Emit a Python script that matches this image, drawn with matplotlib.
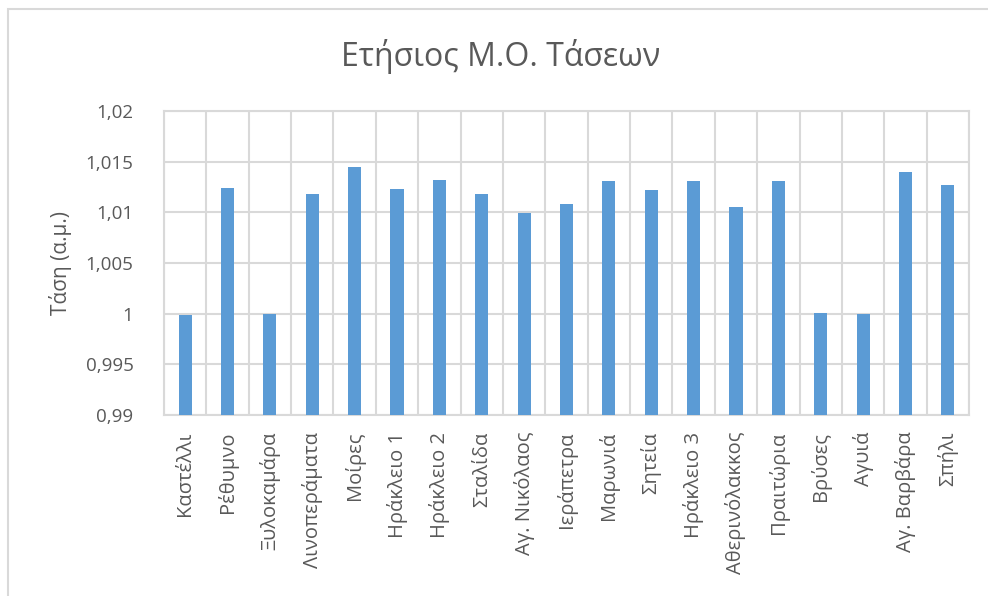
import numpy as np
import matplotlib
matplotlib.use("Agg")
import matplotlib.pyplot as plt
from matplotlib.patches import Rectangle
from matplotlib.ticker import FuncFormatter, MultipleLocator

# Data
stations = ["Καστέλλι", "Ρέθυμνο", "Ξυλοκαμάρα", "Λινοπεράματα", "Μοίρες",
            "Ηράκλειο 1", "Ηράκλειο 2", "Σταλίδα", "Αγ. Νικόλαος", "Ιεράπετρα",
            "Μαρωνιά", "Σητεία", "Ηράκλειο 3", "Αθερινόλακκος", "Πραιτώρια",
            "Βρύσες", "Αγυιά", "Αγ. Βαρβάρα", "Σπήλι"]
voltage = [0.9999, 1.0124, 1.0000, 1.0118, 1.0145,
           1.0123, 1.0132, 1.0118, 1.0099, 1.0108,
           1.0131, 1.0122, 1.0131, 1.0105, 1.0131,
           1.0001, 1.0000, 1.0140, 1.0127]
y_min, y_max, y_step = 0.99, 1.02, 0.005

TEXT = "#595959"
GRID = "#d9d9d9"
BAR = "#5b9bd5"

plt.rcParams['font.family'] = ['Open Sans', 'DejaVu Sans']

fig = plt.figure(figsize=(9.88, 5.96), dpi=100)
fig.patch.set_facecolor('white')

# outer chart border
fig.patches.append(Rectangle((8 / 988, -0.05), 1.2, 1 - 9 / 596 + 0.05,
                             transform=fig.transFigure, fill=False,
                             edgecolor=GRID, linewidth=1.5))

ax = fig.add_axes([164 / 988, 1 - 415 / 596, (969 - 164) / 988, (415 - 111) / 596])

x = np.arange(len(stations))
ax.bar(x, voltage, width=0.31, color=BAR, zorder=3)

ax.set_xlim(-0.5, len(stations) - 0.5)
ax.set_ylim(y_min, y_max)
ax.yaxis.set_major_locator(MultipleLocator(y_step))
ax.yaxis.set_major_formatter(FuncFormatter(
    lambda v, p: ('%g' % round(v, 3)).replace('.', ',')))

ax.set_xticks(x)
ax.set_xticklabels(stations, rotation=90, fontsize=14.5, color=TEXT)
ax.set_xticks(np.arange(len(stations) + 1) - 0.5, minor=True)
ax.tick_params(axis='x', which='both', length=0, pad=12)
ax.tick_params(axis='y', length=0, labelsize=13.5, labelcolor=TEXT, pad=22)

ax.grid(axis='y', which='major', color=GRID, linewidth=1.5, zorder=0)
ax.grid(axis='x', which='minor', color=GRID, linewidth=1.5, zorder=0)
for spine in ax.spines.values():
    spine.set_color(GRID)
    spine.set_linewidth(1.5)

ax.set_ylabel("Τάση (α.μ.)", fontsize=15, color=TEXT, labelpad=10)
fig.text(0.507, 1 - 57 / 596, "Ετήσιος Μ.Ο. Τάσεων", ha='center', va='center',
         fontsize=23, color=TEXT)

fig.savefig("out.png", dpi=100)
